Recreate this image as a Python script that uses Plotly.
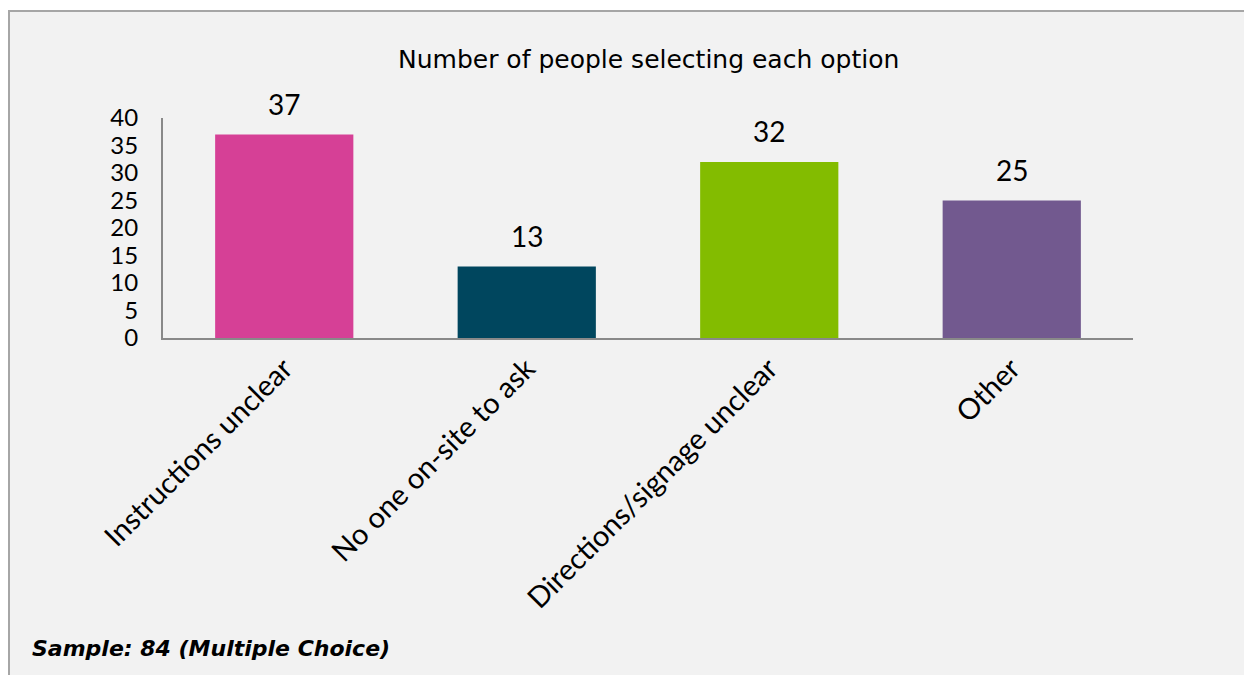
import plotly.graph_objects as go

categories = ["Instructions unclear", "No one on-site to ask", "Directions/signage unclear", "Other"]
values = [37, 13, 32, 25]
colors = ["#D64096", "#00465E", "#83BC00", "#72598F"]
y_ticks = [0, 5, 10, 15, 20, 25, 30, 35, 40]

# page body has an 8px margin, so the figure is 8px smaller and offset
OFF = 8
W, H = 1252 - OFF, 675 - OFF
L, R, T, B = 163 - OFF, 1133 - OFF, 118 - OFF, 338 - OFF

def px_x(p):
    return (p - OFF - L) / (R - L)

def px_y(p):
    return (B - (p - OFF)) / (B - T)

fig = go.Figure()
fig.add_trace(go.Bar(
    x=categories, y=values, marker=dict(color=colors, line=dict(width=0)),
    width=0.57, hoverinfo="x+y", showlegend=False,
))

for c, v in zip(categories, values):
    fig.add_annotation(x=c, y=v, text=str(v), showarrow=False, yanchor="bottom",
                       yshift=12, font=dict(family="Lato, Noto Sans, sans-serif", size=28, color="#000"))

fig.add_annotation(xref="paper", yref="paper", x=0.5, y=px_y(60), text="Number of people selecting each option",
                   showarrow=False, xanchor="center", yanchor="middle",
                   font=dict(family="DejaVu Sans", size=25, color="#000"))
fig.add_annotation(xref="paper", yref="paper", x=px_x(30), y=px_y(648), text="<b><i>Sample: 84 (Multiple Choice)</i></b>",
                   showarrow=False, xanchor="left", yanchor="middle",
                   font=dict(family="DejaVu Sans", size=22, color="#000"))

fig.add_shape(type="rect", xref="paper", yref="paper", layer="below",
              x0=px_x(9), x1=px_x(1320), y0=px_y(740), y1=px_y(11),
              fillcolor="#F2F2F2", line=dict(color="#A6A6A6", width=2))

fig.update_layout(
    width=W, height=H,
    margin=dict(l=L, r=W - R, t=T, b=H - B, autoexpand=False),
    paper_bgcolor="white", plot_bgcolor="rgba(0,0,0,0)",
    bargap=0.43,
    xaxis=dict(showline=True, linecolor="#898989", linewidth=2, showgrid=False, zeroline=False,
               tickangle=-45, ticks="", tickfont=dict(family="Lato, Noto Sans, sans-serif", size=29, color="#000"),
               fixedrange=True),
    yaxis=dict(range=[0, 40], tickvals=y_ticks, showline=True, linecolor="#898989", linewidth=2,
               showgrid=False, zeroline=False, ticks="", ticklabelstandoff=18,
               tickfont=dict(family="Lato, Noto Sans, sans-serif", size=24, color="#000"), fixedrange=True),
)

fig.write_html("out.html")
